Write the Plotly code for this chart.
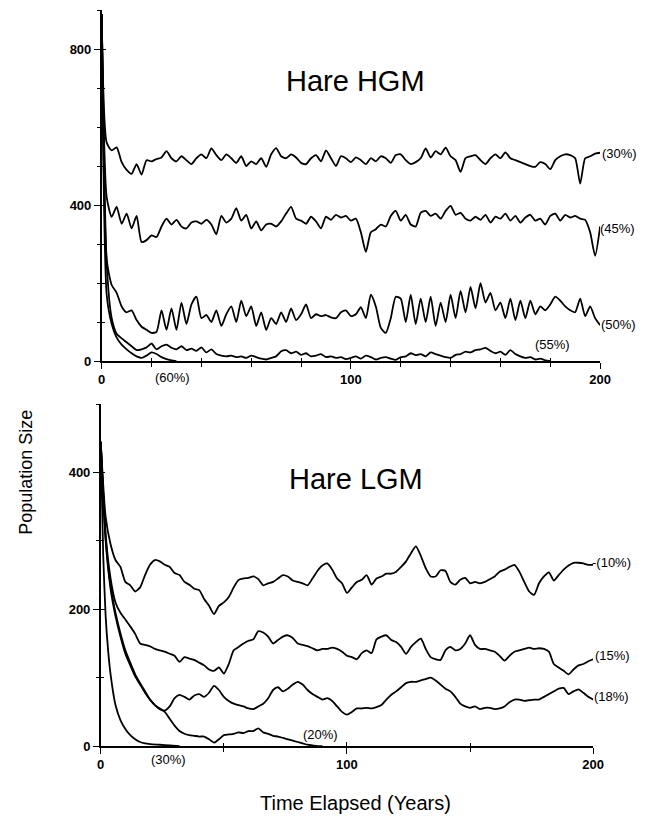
#!/usr/bin/env python3
"""
Hare population trajectories under HGM and LGM harvest models.
"""

import plotly.graph_objects as go

W, H = 657, 819
STRETCH = 1.01  # small correction so the panels land where the scan has them

YEARS = list(range(0, 201, 2))

# ---- Hare HGM (top panel) ----
HGM_30 = [890, 560, 540, 548, 510, 490, 480, 505, 478, 515,
          512, 518, 522, 538, 520, 512, 525, 515, 505, 520,
          530, 520, 545, 528, 515, 530, 520, 508, 525, 500,
          512, 505, 520, 498, 530, 546, 525, 520, 530, 522,
          508, 505, 520, 528, 512, 540, 520, 500, 525, 520,
          510, 522, 515, 505, 520, 512, 525, 520, 508, 528,
          530, 515, 505, 510, 520, 545, 522, 538, 530, 547,
          525, 515, 485, 520, 525, 528, 515, 505, 520, 530,
          520, 535, 520, 515, 510, 505, 500, 498, 510, 505,
          492, 515, 525, 530, 528, 520, 455, 520, 525, 532,
          534]
HGM_45 = [890, 420, 370, 395, 352, 378, 340, 372, 305, 310,
          322, 318, 345, 365, 350, 362, 345, 340, 355, 358,
          352, 362, 350, 325, 372, 355, 365, 392, 360, 375,
          340, 358, 335, 350, 352, 345, 358, 378, 395, 365,
          360, 352, 370, 358, 340, 370, 362, 375, 368, 372,
          360, 365, 330, 280, 330, 338, 350, 345, 372, 385,
          360, 375, 350, 345, 380, 385, 372, 378, 365, 385,
          398, 375, 380, 365, 360, 370, 362, 375, 355, 370,
          365, 378, 360, 372, 355, 368, 375, 360, 365, 350,
          372, 378, 360, 375, 368, 372, 365, 362, 330, 270,
          345]
HGM_50 = [890, 260, 195, 175, 140, 125, 130, 105, 88, 80,
          72, 75, 130, 80, 135, 80, 150, 95, 145, 165,
          110, 118, 100, 130, 90, 120, 140, 100, 155, 115,
          140, 90, 125, 80, 110, 95, 125, 100, 135, 105,
          120, 145, 110, 120, 115, 118, 112, 110, 125, 130,
          115, 120, 138, 110, 170, 140, 85, 72, 110, 165,
          160, 100, 170, 95, 160, 100, 165, 90, 150, 100,
          170, 110, 180, 125, 190, 135, 200, 150, 175, 130,
          150, 110, 160, 105, 155, 110, 155, 120, 140, 130,
          145, 165, 155, 140, 130, 125, 160, 115, 140, 110,
          92]
HGM_55 = [890, 250, 110, 70, 58, 48, 38, 28, 30, 35,
          45, 30, 38, 42, 34, 30, 38, 28, 32, 26,
          35, 22, 30, 18, 14, 12, 14, 10, 12, 8,
          14, 10, 6, 4, 8, 12, 25, 28, 20, 24,
          16, 20, 12, 14, 18, 10, 12, 8, 10, 5,
          8, 12, 6, 14, 10, 4, 8, 10, 6, 3,
          10, 12, 20, 15, 18, 12, 22, 18, 14, 10,
          8, 16, 18, 24, 22, 28, 30, 34, 26, 20,
          24, 16, 28, 18, 12, 8, 10, 4, 6, 2,
          0]
HGM_60_YEARS = [0, 2, 4, 6, 8, 10, 12, 14, 16, 18, 20, 22, 24, 26, 28, 30]
HGM_60 = [890, 170, 95, 60, 42, 30, 20, 12, 8, 14, 22, 18, 10, 5, 2, 0]

# ---- Hare LGM (bottom panel) ----
LGM_10 = [445, 335, 295, 272, 262, 240, 235, 226, 232, 250,
          265, 272, 270, 265, 262, 253, 250, 240, 236, 230,
          228, 215, 205, 193, 205, 210, 218, 232, 243, 245,
          246, 248, 244, 235, 238, 240, 245, 250, 248, 242,
          240, 238, 235, 245, 256, 264, 267, 258, 245, 238,
          224, 232, 240, 243, 250, 236, 245, 248, 252, 252,
          255, 262, 270, 282, 292, 278, 260, 248, 248, 257,
          256, 240, 236, 243, 246, 238, 240, 238, 240, 244,
          248, 255, 258, 262, 265, 255, 240, 226, 221, 238,
          248, 254, 242, 250, 258, 264, 268, 268, 267, 265,
          265]
LGM_15 = [445, 310, 245, 210, 195, 185, 175, 164, 150, 148,
          146, 142, 140, 138, 135, 132, 123, 130, 128, 126,
          122, 118, 112, 110, 115, 106, 120, 140, 145, 150,
          154, 156, 168, 166, 160, 150, 155, 160, 162, 158,
          150, 148, 146, 143, 140, 142, 142, 144, 142, 138,
          132, 130, 127, 136, 140, 136, 156, 160, 162, 155,
          152, 145, 135, 145, 152, 157, 142, 130, 127, 126,
          140, 145, 140, 142, 150, 162, 148, 142, 142, 140,
          138, 132, 125, 132, 138, 140, 142, 144, 142, 143,
          142, 138, 120, 115, 110, 105, 112, 118, 120, 124,
          127]
LGM_18 = [445, 305, 235, 195, 165, 140, 122, 105, 92, 80,
          68, 60, 54, 52, 58, 70, 75, 72, 68, 74,
          76, 72, 78, 88, 82, 72, 66, 62, 60, 58,
          55, 54, 58, 62, 70, 82, 86, 80, 84, 90,
          94, 90, 82, 76, 72, 68, 70, 66, 58, 50,
          46, 50, 55, 55, 56, 55, 57, 60, 68, 75,
          80, 86, 92, 94, 94, 96, 98, 100, 96, 90,
          84, 80, 72, 62, 58, 56, 58, 54, 56, 56,
          54, 55, 58, 64, 68, 68, 66, 67, 68, 68,
          72, 76, 80, 84, 85, 76, 80, 83, 78, 72,
          68]
LGM_20 = [445, 300, 230, 190, 160, 135, 118, 102, 90, 78,
          68, 60, 55, 50, 40, 30, 22, 18, 16, 15,
          14, 14, 10, 5, 10, 16, 17, 18, 20, 19,
          22, 22, 26, 20, 18, 15, 14, 12, 10, 8,
          6, 4, 2, 1, 0, 0]
LGM_30_YEARS = [0, 1, 2, 3, 4, 6, 8, 10, 12, 14, 16, 18, 20, 24, 28, 32]
LGM_30 = [445, 280, 190, 140, 105, 60, 38, 25, 16, 10, 6, 4, 3, 2, 1, 0]

# series labels: (text, pixel x, pixel y, anchor)
SERIES_LABELS = [("(30%)", 604, 153, "left"), ("(45%)", 602, 228, "left"),
                 ("(50%)", 603, 324, "left"), ("(55%)", 556, 344, "center"),
                 ("(60%)", 171, 377, "center"),
                 ("-(10%)", 594, 562, "left"), ("(15%)", 597, 655, "left"),
                 ("(18%)", 596, 696, "left"), ("(20%)", 321, 734, "center"),
                 ("(30%)", 167, 759, "center")]


def fx(p):
    return min(p * STRETCH / W, 1.0)


def fy(p):
    return max(1 - p * STRETCH / H, 0.0)


def main():
    fig = go.Figure()
    line = dict(color="black", width=1.8, shape="spline", smoothing=0.6)

    top = [(YEARS, HGM_30), (YEARS, HGM_45), (YEARS, HGM_50),
           (YEARS[:len(HGM_55)], HGM_55), (HGM_60_YEARS, HGM_60)]
    for xs, ys in top:
        fig.add_trace(go.Scatter(x=xs, y=ys, mode="lines", line=line,
                                 xaxis="x", yaxis="y", showlegend=False))

    bottom = [(YEARS, LGM_10), (YEARS, LGM_15), (YEARS, LGM_18),
              (YEARS[:len(LGM_20)], LGM_20), (LGM_30_YEARS, LGM_30)]
    for xs, ys in bottom:
        fig.add_trace(go.Scatter(x=xs, y=ys, mode="lines", line=line,
                                 xaxis="x2", yaxis="y2", showlegend=False))

    # empty traces so the overlay tick axes get drawn
    fig.add_trace(go.Scatter(x=[None], y=[None], xaxis="x3", yaxis="y3",
                             showlegend=False, hoverinfo="skip"))
    fig.add_trace(go.Scatter(x=[None], y=[None], xaxis="x4", yaxis="y4",
                             showlegend=False, hoverinfo="skip"))

    tickfont = dict(family="Liberation Sans", size=13, color="black", weight="bold")
    base = dict(showgrid=False, zeroline=False, showline=True, linecolor="black",
                linewidth=1.5, ticks="outside", ticklen=6, tickwidth=1.3,
                tickcolor="black", tickfont=tickfont)
    inner = dict(showgrid=False, zeroline=False, showline=False,
                 showticklabels=False, ticks="inside", ticklen=4, tickwidth=1.3,
                 tickcolor="black")

    top_x = [fx(99), fx(604)]
    top_y = [fy(361), fy(10)]
    bot_x = [fx(98), fx(597)]
    bot_y = [fy(746), fy(404)]

    fig.update_layout(
        width=W, height=H,
        margin=dict(l=0, r=0, t=0, b=0),
        paper_bgcolor="white", plot_bgcolor="white",
        xaxis=dict(base, domain=top_x, anchor="y", range=[0, 200],
                   tickvals=[0, 100, 200],
                   minor=dict(dtick=20, ticks="outside", ticklen=4, tickcolor="black")),
        yaxis=dict(base, domain=top_y, anchor="x", range=[0, 900],
                   tickvals=[0, 400, 800],
                   minor=dict(dtick=100, ticks="outside", ticklen=3, tickcolor="black")),
        xaxis3=dict(inner, domain=top_x, anchor="y3", overlaying="x", range=[0, 200],
                    tickvals=[0, 100, 200],
                    minor=dict(dtick=20, ticks="inside", ticklen=3, tickcolor="black")),
        yaxis3=dict(inner, domain=top_y, anchor="x3", overlaying="y", range=[0, 900],
                    tickvals=[0, 400, 800],
                    minor=dict(dtick=100, ticks="inside", ticklen=3, tickcolor="black")),
        xaxis2=dict(base, domain=bot_x, anchor="y2", range=[0, 200],
                    tickvals=[0, 100, 200],
                    minor=dict(dtick=50, ticks="outside", ticklen=4, tickcolor="black")),
        yaxis2=dict(base, domain=bot_y, anchor="x2", range=[0, 500],
                    tickvals=[0, 200, 400],
                    minor=dict(dtick=100, ticks="outside", ticklen=3, tickcolor="black")),
        xaxis4=dict(inner, domain=bot_x, anchor="y4", overlaying="x2", range=[0, 200],
                    tickvals=[0, 100, 200],
                    minor=dict(dtick=50, ticks="inside", ticklen=3, tickcolor="black")),
        yaxis4=dict(inner, domain=bot_y, anchor="x4", overlaying="y2", range=[0, 500],
                    tickvals=[0, 200, 400],
                    minor=dict(dtick=100, ticks="inside", ticklen=3, tickcolor="black")),
    )

    def note(text, px, py, size, xanchor="center", angle=0):
        return dict(text=text, x=fx(px), y=fy(py), xref="paper", yref="paper",
                    showarrow=False, xanchor=xanchor, yanchor="middle",
                    textangle=angle,
                    font=dict(family="Liberation Sans", size=size, color="black"))

    ann = [note(text, px, py, 13, anchor) for text, px, py, anchor in SERIES_LABELS]
    ann.append(note("Hare HGM", 356, 81, 29))
    ann.append(note("Hare LGM", 357, 479, 29))
    ann.append(note("Population Size", 22, 472, 18, angle=-90))
    ann.append(note("Time Elapsed (Years)", 356, 803, 20))

    fig.update_layout(annotations=ann)

    # fit the figure to the page's viewport exactly
    fit = ("document.body.style.margin='0px';"
           "document.body.style.overflow='hidden';"
           "Plotly.relayout(document.getElementById('{plot_id}'),"
           "{width: window.innerWidth, height: window.innerHeight});")
    fig.write_html("out.html", config={"displayModeBar": False}, post_script=fit)


if __name__ == "__main__":
    main()
